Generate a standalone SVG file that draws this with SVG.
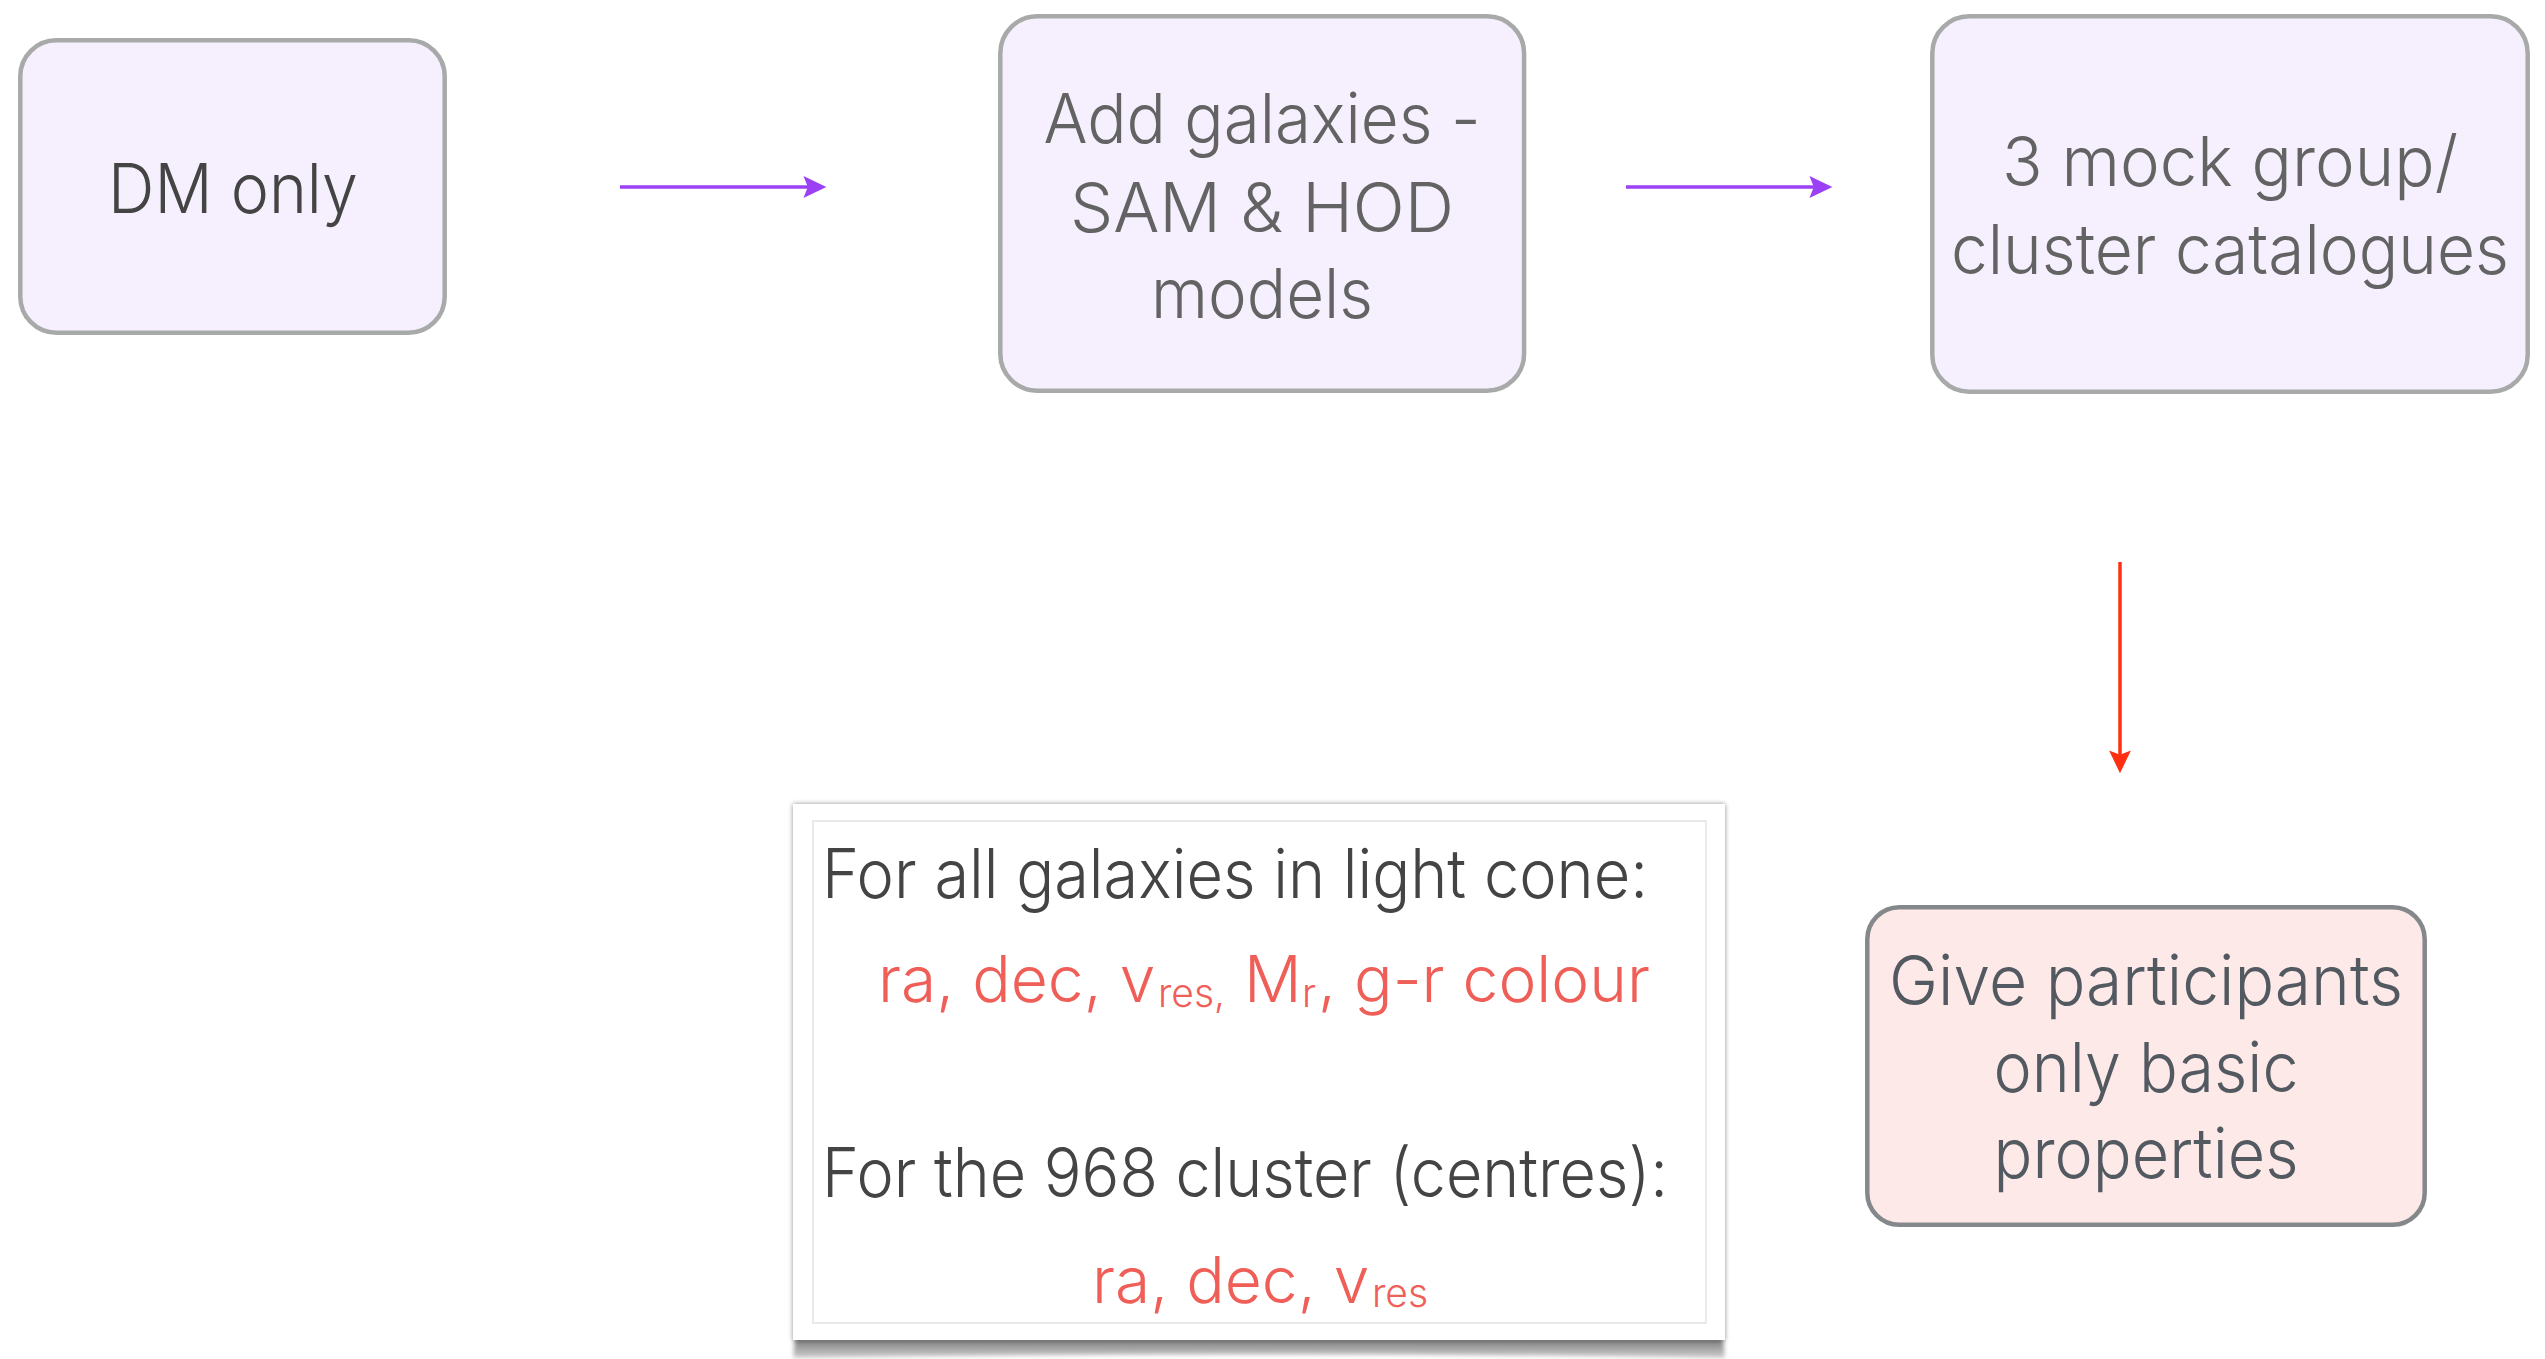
<svg xmlns="http://www.w3.org/2000/svg" width="2545" height="1359" viewBox="0 0 2545 1359">
<defs>
<style>
.box{fill:#f6f0fe;stroke:#a8aaa9;stroke-width:4.5}
.pink{fill:#fde9e7;stroke:#85888b;stroke-width:4.5}
.t{font-family:Inter,Roboto,"Liberation Sans",Arial,sans-serif;font-weight:300;font-size:69px;text-anchor:middle}
.g6{fill:#636363}
.g4{fill:#444444}
.gs{fill:#535960}
.dark{font-family:Inter,Roboto,"Liberation Sans",Arial,sans-serif;font-weight:300;font-size:68px;fill:#444444}
.red{font-family:Inter,Roboto,"Liberation Sans",Arial,sans-serif;font-weight:300;font-size:64px;fill:#ef5f58}
.sub{font-size:39px}
.conn{fill:none;stroke-width:3.5}
</style>
<marker id="hp" markerUnits="userSpaceOnUse" markerWidth="24" markerHeight="22" viewBox="0 0 22 20" refX="6" refY="10" orient="auto">
<path d="M0,0 L21,10 L0,20 L4,10 Z" fill="#9b40f5"/>
</marker>
<marker id="hr" markerUnits="userSpaceOnUse" markerWidth="24" markerHeight="22" viewBox="0 0 22 20" refX="6" refY="10" orient="auto">
<path d="M0,0 L21,10 L0,20 L4,10 Z" fill="#ff3010"/>
</marker>
<filter id="sh" x="-5%" y="-5%" width="110%" height="110%">
<feGaussianBlur in="SourceAlpha" stdDeviation="2.5"/>
<feComponentTransfer><feFuncA type="linear" slope="0.45"/></feComponentTransfer>
<feMerge><feMergeNode/><feMergeNode in="SourceGraphic"/></feMerge>
</filter>
<filter id="blur" x="-5%" y="-50%" width="110%" height="200%">
<feGaussianBlur stdDeviation="2"/>
</filter>
<linearGradient id="bsh" x1="0" y1="0" x2="0" y2="1">
<stop offset="0" stop-color="#767676"/>
<stop offset="1" stop-color="#d0d0d0"/>
</linearGradient>
</defs>

<g id="node-dm">
<rect class="box" x="20.3" y="40.3" width="424.4" height="292.4" rx="36"/>
<text class="t g4" x="233" y="213" textLength="250" lengthAdjust="spacingAndGlyphs">DM only</text>
</g>

<g id="node-galaxies">
<rect class="box" x="1000.3" y="16.3" width="523.8" height="374.4" rx="37"/>
<text class="t g6" x="1262" y="143" textLength="437" lengthAdjust="spacingAndGlyphs">Add galaxies -</text>
<text class="t g6" x="1262" y="232" textLength="384" lengthAdjust="spacingAndGlyphs">SAM &amp; HOD</text>
<text class="t g6" x="1262" y="318" textLength="222" lengthAdjust="spacingAndGlyphs">models</text>
</g>

<g id="node-catalogues">
<rect class="box" x="1932.3" y="16.3" width="595.4" height="375.4" rx="37"/>
<text class="t g6" x="2230" y="186" textLength="456" lengthAdjust="spacingAndGlyphs">3 mock group/</text>
<text class="t g6" x="2230" y="274" font-size="66" textLength="558" lengthAdjust="spacingAndGlyphs">cluster catalogues</text>
</g>

<g id="node-participants">
<rect class="pink" x="1867.3" y="907.3" width="557.4" height="317.4" rx="32"/>
<text class="t gs" x="2146" y="1005" textLength="514" lengthAdjust="spacingAndGlyphs">Give participants</text>
<text class="t gs" x="2146" y="1092" textLength="305" lengthAdjust="spacingAndGlyphs">only basic</text>
<text class="t gs" x="2146" y="1178" textLength="305" lengthAdjust="spacingAndGlyphs">properties</text>
</g>

<g id="node-properties">
<path d="M795,1338 L1723,1338 L1725,1358 Q1259,1351 793,1358 Z" fill="url(#bsh)" filter="url(#blur)"/>
<rect x="793" y="804" width="932" height="536" fill="#ffffff" filter="url(#sh)"/>
<rect x="813" y="821" width="893" height="502" fill="#ffffff" stroke="#e3e3e3" stroke-width="1.5"/>
<text class="dark" x="822" y="898" textLength="826" lengthAdjust="spacingAndGlyphs">For all galaxies in light cone:</text>
<text class="red" x="878" y="1002">ra, dec, v<tspan class="sub" x="1158" y="1007">res,</tspan><tspan x="1244" y="1002">M</tspan><tspan class="sub" x="1302" y="1007">r</tspan><tspan x="1318" y="1002">, g-r colour</tspan></text>
<text class="dark" x="822" y="1197" textLength="846" lengthAdjust="spacingAndGlyphs">For the 968 cluster (centres):</text>
<text class="red" x="1092" y="1303">ra, dec, v<tspan class="sub" x="1372" y="1307">res</tspan></text>
</g>

<g id="connectors">
<line class="conn" x1="620" y1="187" x2="810" y2="187" stroke="#9b40f5" marker-end="url(#hp)"/>
<line class="conn" x1="1626" y1="187" x2="1816" y2="187" stroke="#9b40f5" marker-end="url(#hp)"/>
<line class="conn" x1="2120" y1="562" x2="2120" y2="757" stroke="#ff3010" marker-end="url(#hr)"/>
</g>
</svg>
